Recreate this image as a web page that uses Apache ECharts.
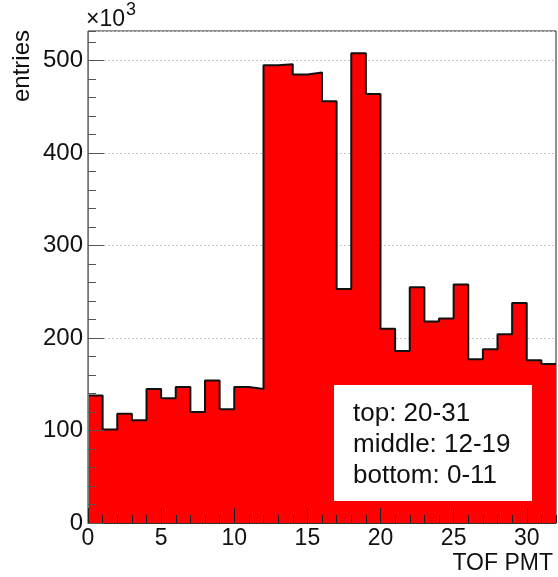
<!DOCTYPE html>
<html>
<head>
<meta charset="utf-8">
<script src="https://cdn.jsdelivr.net/npm/echarts@6/dist/echarts.min.js"></script>
<style>
  html, body { margin: 0; padding: 0; background: #fff; }
  #tof { width: 558px; height: 577px; }
</style>
</head>
<body>
<div id="tof"></div>
<script>
// TOF PMT index (bin lower edges) and entries per PMT, in units of 10^3
var pmtBins = [0, 1, 2, 3, 4, 5, 6, 7, 8, 9, 10, 11, 12, 13, 14, 15,
               16, 17, 18, 19, 20, 21, 22, 23, 24, 25, 26, 27, 28, 29, 30, 31];
var entries = [138, 101, 118, 111, 145, 135, 147, 120, 154, 123, 147, 145,
               495, 496, 485, 487, 456, 253, 508, 464,
               210, 186, 255, 218, 221, 258, 177, 188, 204, 238, 176, 172];
var binRight = 32;
var yTop = 532;
var legendLines = ['top: 20-31', 'middle: 12-19', 'bottom: 0-11'];

var font = '"Liberation Sans", Arial, Helvetica, sans-serif';

function drawHist() {
  var chart = echarts.init(document.getElementById('tof'));

  // step outline: each bin keeps its value until the next edge
  var steps = pmtBins.map(function (x, i) { return [x, entries[i]]; });
  steps.push([binRight, entries[entries.length - 1]]);

  var option = {
    animation: false,
    grid: {
      left: 88, right: 2, top: 31, bottom: 54,
      show: true, borderColor: '#222', borderWidth: 1
    },
    xAxis: [{
      type: 'value', min: 0, max: binRight, interval: 5, position: 'bottom', z: 5,
      axisLine: { show: true, lineStyle: { color: '#333' } },
      axisTick: { show: true, inside: true, length: 15, lineStyle: { color: '#222' } },
      axisLabel: { fontFamily: font, fontSize: 23, color: '#111', margin: 4, showMaxLabel: false },
      splitLine: { show: false }
    }, {
      type: 'value', min: 0, max: binRight, interval: 1, position: 'bottom', z: 5,
      axisLine: { show: false },
      axisTick: { show: true, inside: true, length: 8, lineStyle: { color: '#222' } },
      axisLabel: { show: false },
      splitLine: { show: false }
    }],
    yAxis: [{
      type: 'value', min: 0, max: yTop, interval: 100, position: 'left', z: 5,
      axisLine: { show: true, lineStyle: { color: '#777' } },
      axisTick: { show: true, inside: true, length: 16, lineStyle: { color: '#555' } },
      axisLabel: { fontFamily: font, fontSize: 24, color: '#111', margin: 5, showMaxLabel: false },
      splitLine: { show: false }
    }, {
      type: 'value', min: 0, max: yTop, interval: 20, position: 'left', z: 5,
      axisLine: { show: false },
      axisTick: { show: true, inside: true, length: 8, lineStyle: { color: '#555' } },
      axisLabel: { show: false },
      splitLine: { show: false }
    }, {
      type: 'value', min: 0, max: yTop, interval: 100, position: 'left', z: 0,
      axisLine: { show: false },
      axisTick: { show: false },
      axisLabel: { show: false },
      splitLine: { show: true, lineStyle: { color: '#c4c4c4', type: [2, 2], width: 1 } }
    }],
    series: [{
      name: 'entries',
      type: 'line',
      step: 'end',
      xAxisIndex: 0,
      yAxisIndex: 0,
      data: steps,
      symbol: 'none',
      z: 2,
      lineStyle: { color: '#111', width: 2 },
      areaStyle: { color: '#ff0000', opacity: 1 }
    }],
    graphic: [
      { type: 'text', x: 86, y: 20, z: 10,
        style: { text: '\u00d710', font: '23px ' + font, fill: '#111', textVerticalAlign: 'middle' } },
      { type: 'text', x: 126, y: 10, z: 10,
        style: { text: '3', font: '18px ' + font, fill: '#111', textVerticalAlign: 'middle' } },
      { type: 'text', x: 22, y: 66, rotation: Math.PI / 2, z: 10,
        style: { text: 'entries', font: '24px ' + font, fill: '#111',
                 textAlign: 'center', textVerticalAlign: 'middle' } },
      { type: 'text', right: 5, top: 552, z: 10,
        style: { text: 'TOF PMT', font: '23px ' + font, fill: '#111' } },
      { type: 'rect', left: 334, top: 385, z: 20,
        shape: { width: 198, height: 116 },
        style: { fill: '#fff', stroke: null } },
      { type: 'text', left: 353, top: 398, z: 21,
        style: { text: legendLines.join('\n'), font: '26px ' + font, fill: '#111', lineHeight: 31 } }
    ]
  };
  chart.setOption(option);
}

drawHist();
</script>
</body>
</html>
